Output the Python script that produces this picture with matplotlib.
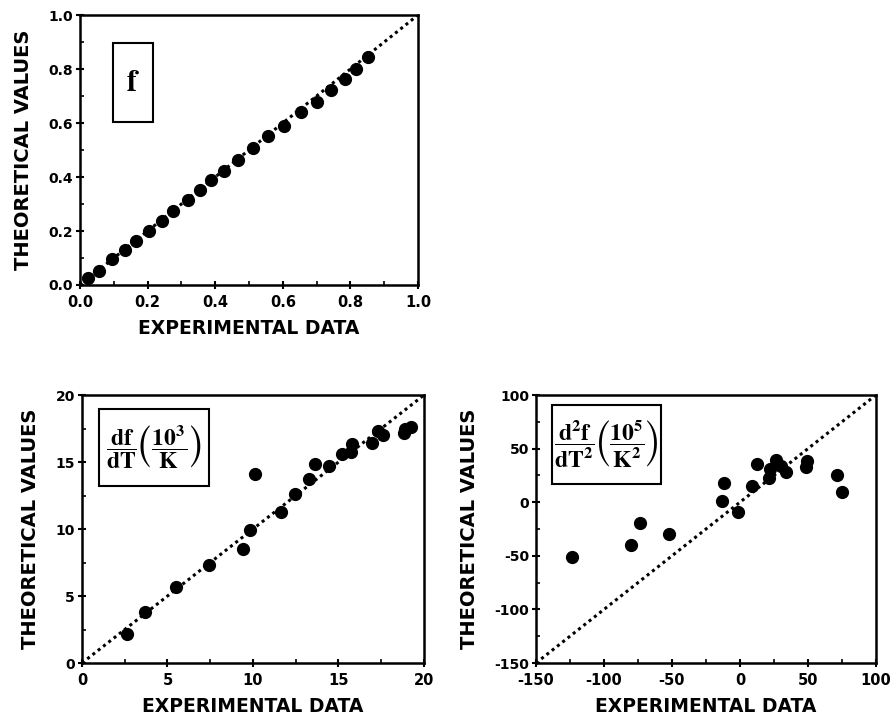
import matplotlib
matplotlib.use("Agg")
import matplotlib.pyplot as plt
from matplotlib.patches import Rectangle
from matplotlib.ticker import MultipleLocator, FormatStrFormatter

plt.rcParams['font.family'] = ['DejaVu Sans']
plt.rcParams['font.weight'] = 'bold'
plt.rcParams['mathtext.fontset'] = 'stix'
plt.rcParams['mathtext.default'] = 'bf'

# panel 1: f
f_exp = [0.025, 0.056, 0.096, 0.132, 0.167, 0.203, 0.242, 0.275, 0.320, 0.354, 0.388,
         0.427, 0.467, 0.513, 0.557, 0.603, 0.654, 0.701, 0.742, 0.785, 0.817, 0.853]
f_theo = [0.025, 0.053, 0.098, 0.130, 0.164, 0.201, 0.237, 0.273, 0.314, 0.352, 0.388,
          0.423, 0.462, 0.509, 0.551, 0.590, 0.640, 0.679, 0.722, 0.762, 0.799, 0.846]

# panel 2: df/dT
df_exp = [2.63, 3.70, 5.49, 7.44, 9.39, 9.83, 10.09, 11.63, 12.46, 13.28, 13.63,
          14.47, 15.23, 15.72, 15.77, 16.98, 17.33, 17.62, 18.83, 18.89, 19.24]
df_theo = [2.14, 3.81, 5.68, 7.30, 8.54, 9.96, 14.07, 11.28, 12.65, 13.72, 14.82,
           14.70, 15.57, 15.77, 16.34, 16.39, 17.34, 17.01, 17.14, 17.46, 17.58]

# panel 3: d2f/dT2
d2f_exp = [-123.8, -80.4, -73.5, -52.0, -13.5, -11.8, -1.7, 8.6, 12.7, 21.3, 22.1,
           26.2, 29.9, 33.8, 48.3, 49.0, 71.1, 74.8]
d2f_theo = [-51.4, -39.8, -19.5, -29.8, 1.4, 17.9, -9.2, 14.8, 36.0, 22.6, 31.0,
            39.1, 34.1, 28.2, 32.9, 38.2, 25.1, 9.5]

fig = plt.figure(figsize=(8.93, 7.15), dpi=100)
ax1 = fig.add_axes([0.0896, 0.6014, 0.3785, 0.3776])
ax2 = fig.add_axes([0.0918, 0.0727, 0.3830, 0.3748])
ax3 = fig.add_axes([0.6002, 0.0727, 0.3807, 0.3748])

panels = [
    (ax1, f_exp, f_theo, (0, 1), 0.2, 0.1, '%.1f', r'$\mathbf{f}$', 22,
     (0.098, 0.604, 0.118, 0.292)),
    (ax2, df_exp, df_theo, (0, 20), 5, 2.5, '%d',
     r'$\dfrac{df}{dT}\left(\dfrac{10^3}{K}\right)$', 17, (0.97, 13.2, 6.43, 5.75)),
    (ax3, d2f_exp, d2f_theo, (-150, 100), 50, 25, '%d',
     r'$\dfrac{d^2f}{dT^2}\left(\dfrac{10^5}{K^2}\right)$', 17, (-138.5, 17.3, 80.2, 73.0)),
]

for ax, xs, ys, lim, major, minor, fmt, label, fs, box in panels:
    lo, hi = lim
    ax.plot([lo, hi], [lo, hi], linestyle=(0, (1, 1.2)), color='black', lw=2.2, zorder=2)
    ax.plot(xs, ys, 'o', color='black', ms=8.5, zorder=3)
    ax.set_xlim(lo, hi)
    ax.set_ylim(lo, hi)
    ax.xaxis.set_major_locator(MultipleLocator(major))
    ax.yaxis.set_major_locator(MultipleLocator(major))
    ax.xaxis.set_minor_locator(MultipleLocator(minor))
    ax.yaxis.set_minor_locator(MultipleLocator(minor))
    ax.xaxis.set_major_formatter(FormatStrFormatter(fmt))
    ax.yaxis.set_major_formatter(FormatStrFormatter(fmt))
    ax.tick_params(which='major', direction='inout', length=6, width=1.5, labelsize=10, pad=2)
    ax.tick_params(which='minor', direction='in', length=3, width=1.2)
    ax.tick_params(axis='x', labelsize=10.5, pad=4)
    for sp in ax.spines.values():
        sp.set_linewidth(1.8)
    for t in ax.get_xticklabels() + ax.get_yticklabels():
        t.set_fontweight('bold')
    ax.set_xlabel('EXPERIMENTAL DATA', fontsize=13.5, fontweight='bold', labelpad=7)
    ax.set_ylabel('THEORETICAL VALUES', fontsize=14, fontweight='bold', labelpad=11)
    bx, by, bw, bh = box
    ax.add_patch(Rectangle((bx, by), bw, bh, fill=False, edgecolor='black', lw=1.5, zorder=4))
    ax.text(bx + bw / 2, by + bh / 2, label, fontsize=fs, ha='center', va='center', zorder=5)

fig.savefig('out.png', dpi=100)
